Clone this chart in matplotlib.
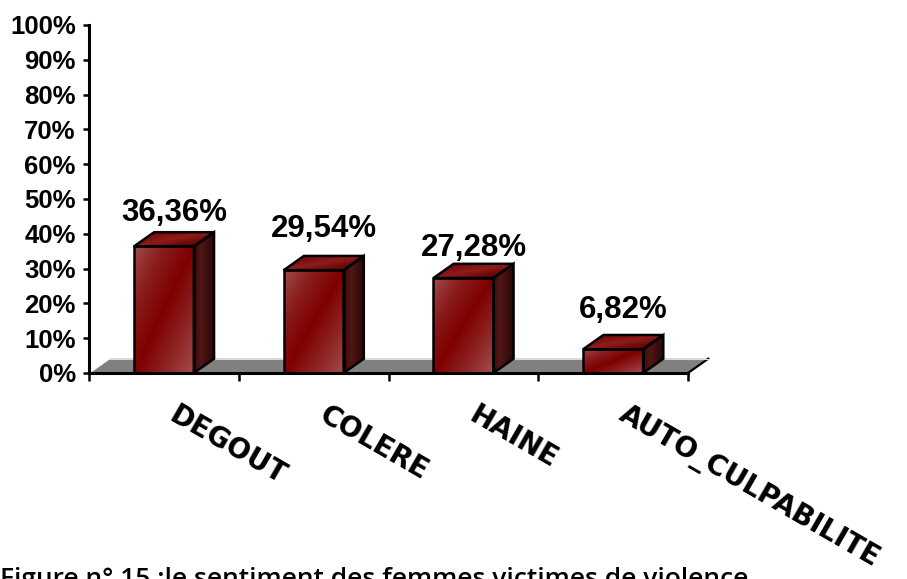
import numpy as np
import matplotlib
matplotlib.use("Agg")
import matplotlib.pyplot as plt
from matplotlib.patches import Polygon
from matplotlib.colors import LinearSegmentedColormap

# ── Données ───────────────────────────────────────────────
categories = ['DEGOUT', 'COLERE', 'HAINE', 'AUTO_CULPABILITE']
valeurs    = [36.36, 29.54, 27.28, 6.82]
etiquettes = ['36,36%', '29,54%', '27,28%', '6,82%']
yticks     = [0, 10, 20, 30, 40, 50, 60, 70, 80, 90, 100]

# ── Style ─────────────────────────────────────────────────
LARG   = 0.40     # largeur barre (unités catégorie)
DX     = 0.135    # profondeur 3D en x
DY     = 4.1      # profondeur 3D en y (%)
pads   = [4, 12, 1, 10]   # décalage des étiquettes (px)

cm_face = LinearSegmentedColormap.from_list('face', ['#a24a4a', '#8a1c1c', '#7e0000', '#8e2424', '#a44c4c'])
cm_top  = LinearSegmentedColormap.from_list('top',  ['#5e0606', '#7a0c0c', '#8e1c1c', '#6a0808', '#560404'])
cm_side = LinearSegmentedColormap.from_list('side', ['#3a0c0c', '#521616', '#3c0e0e', '#2a0808'])

fig = plt.figure(figsize=(9.07, 5.79), dpi=100)
ax = fig.add_axes([89/907, 206/579, 599/907, 348/579])


def degrade(poly, cmap, bbox, diag=True):
    x0, x1, y0, y1 = bbox
    n = 120
    xx, yy = np.meshgrid(np.linspace(0, 1, n), np.linspace(0, 1, n))
    t = (xx - yy + 1) / 2 if diag else xx
    im = ax.imshow(t, cmap=cmap, extent=(x0, x1, y0, y1), origin='lower',
                   aspect='auto', interpolation='bilinear', zorder=3)
    im.set_clip_path(poly)


# sol gris
sol = Polygon([(-0.5, 0), (3.5, 0), (3.5 + DX, DY), (-0.5 + DX, DY)],
              closed=True, facecolor='#808080', edgecolor='none', zorder=1, clip_on=False)
ax.add_patch(sol)
ax.plot([3.5, 3.5 + DX], [0, DY], color='black', lw=1.6, clip_on=False, zorder=2)
ax.plot([-0.5, -0.5 + DX], [0, DY], color='white', lw=1.2, clip_on=False, zorder=2)
ax.plot([-0.5 + DX, 3.5 + DX], [DY, DY], color='#d8d8d8', lw=0.8, clip_on=False, zorder=2)

x = np.arange(len(categories))
barres = ax.bar(x, valeurs, width=LARG, color='none', edgecolor='black', linewidth=1.8, zorder=5)

for xi, v, b in zip(x, valeurs, barres):
    l, r = xi - LARG / 2, xi + LARG / 2
    face = Polygon([(l, 0), (r, 0), (r, v), (l, v)], closed=True,
                   facecolor='none', edgecolor='none', zorder=3)
    ax.add_patch(face)
    degrade(face, cm_face, (l, r, 0, v))
    dessus = Polygon([(l, v), (r, v), (r + DX, v + DY), (l + DX, v + DY)], closed=True,
                     facecolor='none', edgecolor='black', linewidth=1.8, zorder=5)
    ax.add_patch(dessus)
    degrade(dessus, cm_top, (l, r + DX, v, v + DY))
    cote = Polygon([(r, 0), (r + DX, DY), (r + DX, v + DY), (r, v)], closed=True,
                   facecolor='none', edgecolor='black', linewidth=1.8, zorder=5)
    ax.add_patch(cote)
    degrade(cote, cm_side, (r, r + DX, 0, v + DY), diag=False)

# étiquettes de valeur
for xi, v, lab, p in zip(x, valeurs, etiquettes, pads):
    ax.annotate(lab, (xi + DX / 2, v + DY), xytext=(0, p * 0.72), textcoords='offset points',
                ha='center', va='bottom', fontsize=22.5, fontweight='bold',
                family='Liberation Sans', zorder=6)

ax.set_xlim(-0.5, 3.5)
ax.set_ylim(0, 100)
ax.set_yticks(yticks)
ax.set_yticklabels([f'{t}%' for t in yticks], fontsize=18.5, fontweight='bold', family='Liberation Sans')
ax.tick_params(axis='y', length=4.5, width=1.8, pad=5)
ax.set_xticks(np.arange(-0.5, 4, 1))
ax.set_xticklabels([])
ax.tick_params(axis='x', length=5.5, width=1.8)

for s in ['top', 'right']:
    ax.spines[s].set_visible(False)
for s in ['left', 'bottom']:
    ax.spines[s].set_linewidth(2.2)
    ax.spines[s].set_zorder(6)

# catégories inclinées
for xi, cat in zip(x, categories):
    ax.text(xi + 0.1, -8, cat, rotation=-30, rotation_mode='anchor', ha='left', va='top',
            fontsize=20, fontweight='bold', family='DejaVu Sans', clip_on=False)

fig.text(0.0, 12/579, 'Figure n° 15 :le sentiment des femmes victimes de violence',
         ha='left', va='top', fontsize=19, fontweight='semibold', family='Open Sans')

fig.savefig('out.png', dpi=100)
